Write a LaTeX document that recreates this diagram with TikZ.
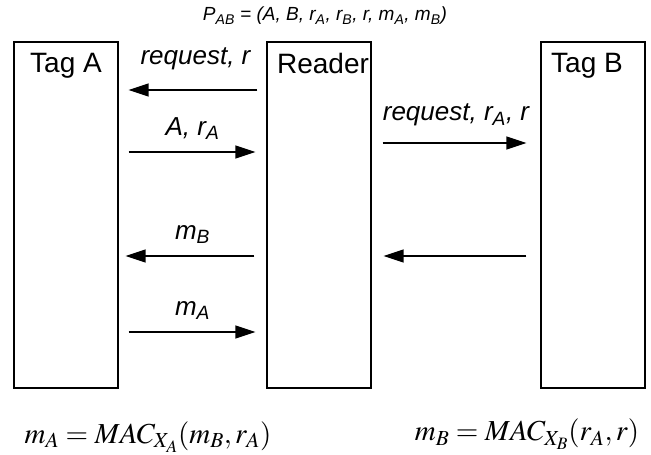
\documentclass[tikz,border=0pt]{standalone}
\usepackage{mathptmx}
\usepackage[no-math]{fontspec}
\setmainfont{Liberation Sans}
\usetikzlibrary{arrows.meta}

\begin{document}
\begin{tikzpicture}[x=1pt,y=-1pt,line width=1.2pt,
  party/.style={draw,minimum width=104pt,minimum height=346pt},
  tagname/.style={anchor=north,inner sep=0pt,yshift=-11pt,font=\fontsize{28}{30}\selectfont},
  msg/.style={-{Triangle[length=20pt,width=13pt]},line width=1.3pt},
  lbl/.style={font=\fontsize{26}{28}\selectfont\itshape,inner sep=0pt}]
\useasboundingbox (0,0) rectangle (651,455);
\node at (325,16) {\fontsize{19}{21}\selectfont\itshape P\textsubscript{AB} = (A, B, r\textsubscript{A}, r\textsubscript{B}, r, m\textsubscript{A}, m\textsubscript{B})};
\node[party,label={[tagname]north:Tag A}] (taga) at (66,215) {};
\node[party,label={[tagname,xshift=4pt]north:Reader}] (reader) at (319,215) {};
\node[party,label={[tagname,xshift=-6pt]north:Tag B}] (tagb) at (593,215) {};
\draw[msg,shorten <=9pt,shorten >=10pt] (reader.west |- 0,90) -- (taga.east |- 0,90)
  node[lbl,midway,above=19pt,xshift=3pt] {request, r};
\draw[msg,shorten <=10pt,shorten >=11pt] (taga.east |- 0,152) -- (reader.west |- 0,152)
  node[lbl,midway,above=12pt] {A, r\textsubscript{A}};
\draw[msg,shorten <=11pt,shorten >=14pt] (reader.east |- 0,143) -- (tagb.west |- 0,143)
  node[lbl,midway,above=16pt] {request, r\textsubscript{A}, r};
\draw[msg,shorten <=12pt,shorten >=7pt] (reader.west |- 0,256) -- (taga.east |- 0,256)
  node[lbl,midway,above=12pt] {m\textsubscript{B}};
\draw[msg,shorten <=14pt,shorten >=12pt] (tagb.west |- 0,256) -- (reader.east |- 0,256);
\draw[msg,shorten <=10pt,shorten >=11pt] (taga.east |- 0,332) -- (reader.west |- 0,332)
  node[lbl,midway,above=12pt] {m\textsubscript{A}};
\node[font=\fontsize{29}{31}\selectfont] (maceqa) at (148,437) {$m_{A}=MAC_{X_{A}}(m_{B},r_{A})$};
\node[font=\fontsize{29}{31}\selectfont] (maceqb) at (527,434) {$m_{B}=MAC_{X_{B}}(r_{A},r)$};
\end{tikzpicture}
\end{document}
